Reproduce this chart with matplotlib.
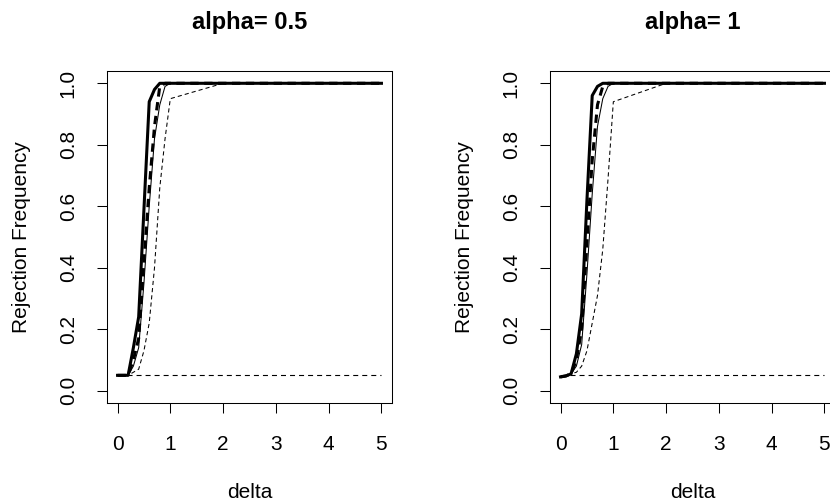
import matplotlib
matplotlib.use("Agg")
import matplotlib.pyplot as plt

plt.rcParams["font.family"] = ["Liberation Sans", "DejaVu Sans"]
plt.rcParams["lines.scale_dashes"] = False

# delta grid
delta = [0, 0.1, 0.2, 0.3, 0.4, 0.5, 0.6, 0.7, 0.8, 0.9, 1.0, 2, 3, 4, 5]

# alpha = 0.5
a05_thick_solid = [0.05, 0.05, 0.05, 0.14, 0.24, 0.59, 0.94, 0.98, 1.0, 1.0, 1.0, 1.0, 1.0, 1.0, 1.0]
a05_thick_dash = [0.05, 0.05, 0.05, 0.10, 0.17, 0.42, 0.66, 0.86, 0.99, 1.0, 1.0, 1.0, 1.0, 1.0, 1.0]
a05_thin_solid = [0.05, 0.05, 0.05, 0.08, 0.14, 0.35, 0.60, 0.82, 0.93, 0.99, 1.0, 1.0, 1.0, 1.0, 1.0]
a05_thin_dash = [0.05, 0.05, 0.05, 0.06, 0.07, 0.13, 0.22, 0.40, 0.66, 0.82, 0.95, 1.0, 1.0, 1.0, 1.0]

# alpha = 1
a1_thick_solid = [0.045, 0.048, 0.055, 0.12, 0.25, 0.62, 0.96, 0.99, 1.0, 1.0, 1.0, 1.0, 1.0, 1.0, 1.0]
a1_thick_dash = [0.045, 0.048, 0.055, 0.10, 0.20, 0.48, 0.75, 0.93, 0.99, 1.0, 1.0, 1.0, 1.0, 1.0, 1.0]
a1_thin_solid = [0.045, 0.048, 0.055, 0.08, 0.15, 0.38, 0.64, 0.86, 0.95, 0.99, 1.0, 1.0, 1.0, 1.0, 1.0]
a1_thin_dash = [0.045, 0.048, 0.055, 0.06, 0.08, 0.13, 0.22, 0.31, 0.46, 0.69, 0.94, 1.0, 1.0, 1.0, 1.0]

nominal = 0.05
titles = ["alpha= 0.5", "alpha= 1"]
panels = [
    (a05_thick_solid, a05_thick_dash, a05_thin_solid, a05_thin_dash),
    (a1_thick_solid, a1_thick_dash, a1_thin_solid, a1_thin_dash),
]
yticks = [0.0, 0.2, 0.4, 0.6, 0.8, 1.0]
xticks = [0, 1, 2, 3, 4, 5]

W, H = 830, 503
fig = plt.figure(figsize=(W / 100, H / 100), dpi=100)
lefts = [107, 550]

for left, title, (ts, td, ns, nd) in zip(lefts, titles, panels):
    ax = fig.add_axes([left / W, 1 - 403 / H, 285 / W, 332 / H])
    ax.plot(delta, [nominal] * len(delta), color="black", lw=0.8, dashes=(3.6, 2.9))
    ax.plot(delta, nd, color="black", lw=0.75, dashes=(3, 2.2))
    ax.plot(delta, ns, color="black", lw=0.75)
    ax.plot(delta, td, color="black", lw=2.2, dashes=(6, 4))
    ax.plot(delta, ts, color="black", lw=2.2)

    ax.set_xlim(-0.2, 5.2)
    ax.set_ylim(-0.04, 1.04)
    ax.set_xticks(xticks)
    ax.set_xticklabels([str(t) for t in xticks])
    ax.set_yticks(yticks)
    ax.set_yticklabels(["%.1f" % t for t in yticks], rotation=90, va="center")
    ax.tick_params(direction="out", length=7, width=0.75, labelsize=15, pad=14)
    ax.tick_params(axis="x", pad=16)
    for s in ax.spines.values():
        s.set_linewidth(0.75)

    ax.set_xlabel("delta", fontsize=15)
    ax.set_ylabel("Rejection Frequency", fontsize=15)
    ax.xaxis.label.set_va("center")
    ax.yaxis.label.set_va("center")
    ax.xaxis.set_label_coords(0.5, (403 - 493) / 332)
    ax.yaxis.set_label_coords((21 - 107) / 285, 0.5)
    ax.set_title(title, fontsize=17, fontweight="bold", y=(403 - 22) / 332, va="center", pad=0)

fig.savefig("out.png", dpi=100)
